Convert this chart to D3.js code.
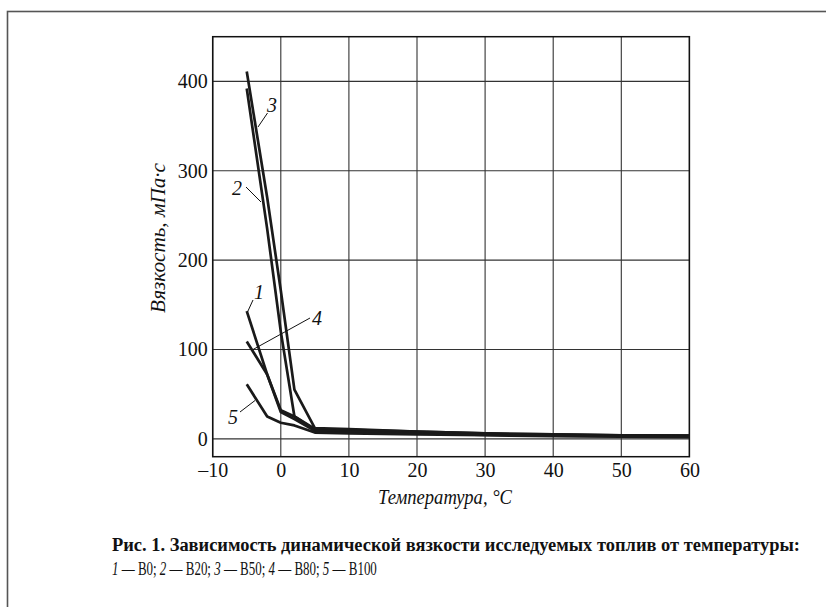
<!DOCTYPE html>
<html>
<head>
<meta charset="utf-8">
<script src="https://cdn.jsdelivr.net/npm/d3@7"></script>
<style>
  body { margin: 0; background: #fff; }
  svg { display: block; font-family: "Liberation Serif", "Times New Roman", serif; }
</style>
</head>
<body>
<div id="chart"></div>
<script>
// temperatures (°C) and viscosity (mPa·s)
const tempsLow = [-5, -2, 0, 2, 5, 10, 20, 30, 40, 50, 60];
const b0   = [143, 72, 32, 25, 11, 10, 8, 6, 5, 4, 3.5];
const b20  = [392, 235, 120, 25, 10, 9, 7, 5, 4, 3.5, 3];
const b50  = [411, 270, 166, 55, 12, 11, 8, 6, 5, 4, 3.5];
const b80  = [109, 72, 30, 22, 9, 8, 6, 4.5, 3.5, 3, 2.5];
const b100 = [61, 25, 18, 15, 7, 6, 5, 4, 3, 2.5, 2];

const xTicks = [-10, 0, 10, 20, 30, 40, 50, 60];
const yTicks = [0, 100, 200, 300, 400];

const seriesNames = ['1', '2', '3', '4', '5'];
const seriesValues = [b0, b20, b50, b80, b100];

const width = 826, height = 607;

const svg = d3.select('#chart').append('svg')
    .attr('width', width)
    .attr('height', height);

// outer gray frame of the figure
svg.append('rect')
    .attr('x', 7.5).attr('y', 11.5)
    .attr('width', 830).attr('height', 610)
    .attr('fill', 'none')
    .attr('stroke', '#555')
    .attr('stroke-width', 1.6);

const x = d3.scaleLinear().domain([-10, 60]).range([212.7, 689.4]);
const y = d3.scaleLinear().domain([-20, 450]).range([456.7, 36.7]);

// grid
const grid = svg.append('g').attr('stroke', '#333').attr('stroke-width', 1.1);
grid.selectAll('.vx').data(xTicks).enter().append('line')
    .attr('x1', d => x(d)).attr('x2', d => x(d))
    .attr('y1', y(450)).attr('y2', y(-20));
grid.selectAll('.hy').data(yTicks).enter().append('line')
    .attr('x1', x(-10)).attr('x2', x(60))
    .attr('y1', d => y(d)).attr('y2', d => y(d));

// plot frame
svg.append('rect')
    .attr('x', x(-10)).attr('y', y(450))
    .attr('width', x(60) - x(-10)).attr('height', y(-20) - y(450))
    .attr('fill', 'none').attr('stroke', '#111').attr('stroke-width', 1.5);

// axes (tick labels only, lines come from grid)
const xAxis = d3.axisBottom(x).tickValues(xTicks).tickSize(0).tickPadding(6)
    .tickFormat(d => d < 0 ? '\u2013' + Math.abs(d) : d);
svg.append('g').attr('transform', `translate(0,${y(-20)})`).call(xAxis)
    .call(g => g.select('.domain').remove())
    .selectAll('text')
    .style('font-family', '"Liberation Serif", serif')
    .style('font-size', '20px')
    .attr('fill', '#111');

const yAxis = d3.axisLeft(y).tickValues(yTicks).tickSize(0).tickPadding(5);
svg.append('g').attr('transform', `translate(${x(-10)},0)`).call(yAxis)
    .call(g => g.select('.domain').remove())
    .selectAll('text')
    .style('font-family', '"Liberation Serif", serif')
    .style('font-size', '20px')
    .attr('fill', '#111');

// axis titles
svg.append('text')
    .attr('x', 445).attr('y', 504)
    .attr('text-anchor', 'middle')
    .style('font-style', 'italic')
    .style('font-size', '20px')
    .attr('fill', '#111')
    .attr('textLength', 134)
    .attr('lengthAdjust', 'spacingAndGlyphs')
    .text('Температура, \u00B0С');

svg.append('text')
    .attr('transform', 'translate(165,238) rotate(-90)')
    .attr('text-anchor', 'middle')
    .style('font-style', 'italic')
    .style('font-size', '20px')
    .attr('fill', '#111')
    .attr('textLength', 150)
    .attr('lengthAdjust', 'spacingAndGlyphs')
    .text('Вязкость, мПа\u00B7с');

// curves
const line = d3.line().x(d => x(d[0])).y(d => y(d[1]));
svg.append('g').selectAll('path')
    .data(seriesValues)
    .enter().append('path')
    .attr('d', vals => line(tempsLow.map((t, i) => [t, vals[i]])))
    .attr('fill', 'none')
    .attr('stroke', '#1a1a1a')
    .attr('stroke-width', 2.7)
    .attr('stroke-linejoin', 'round');

// curve labels with leader lines
const labelPos = [
    { t: '1', tx: 259, ty: 299, lx1: 253, ly1: 300, lx2: 247.5, ly2: 312 },
    { t: '2', tx: 237, ty: 195, lx1: 246, ly1: 187, lx2: 261, ly2: 202 },
    { t: '3', tx: 272, ty: 112, lx1: 267.5, ly1: 113, lx2: 258, ly2: 127 },
    { t: '4', tx: 317, ty: 325, lx1: 310, ly1: 318, lx2: 253, ly2: 349.5 },
    { t: '5', tx: 233, ty: 424, lx1: 240, ly1: 412, lx2: 255, ly2: 400.5 }
];
const lab = svg.append('g');
lab.selectAll('line').data(labelPos).enter().append('line')
    .attr('x1', d => d.lx1).attr('y1', d => d.ly1)
    .attr('x2', d => d.lx2).attr('y2', d => d.ly2)
    .attr('stroke', '#111').attr('stroke-width', 1);
lab.selectAll('text').data(labelPos).enter().append('text')
    .attr('x', d => d.tx).attr('y', d => d.ty)
    .attr('text-anchor', 'middle')
    .style('font-style', 'italic')
    .style('font-size', '20px')
    .attr('fill', '#111')
    .text(d => d.t);

// caption
svg.append('text')
    .attr('x', 112).attr('y', 551)
    .style('font-weight', 'bold')
    .style('font-size', '18px')
    .attr('fill', '#111')
    .attr('textLength', 688)
    .attr('lengthAdjust', 'spacingAndGlyphs')
    .text('Рис. 1. Зависимость динамической вязкости исследуемых топлив от температуры:');

// second caption line: condensed type, done with a horizontal scale
const legendNames = ['В0', 'В20', 'В50', 'В80', 'В100'];
const cap2 = svg.append('text')
    .attr('transform', 'translate(112,575) scale(0.72,1)')
    .style('font-size', '18px')
    .attr('fill', '#111');
legendNames.forEach((n, i) => {
    cap2.append('tspan').style('font-style', 'italic').text(seriesNames[i]);
    cap2.append('tspan').text(' \u2014 ' + n + (i < legendNames.length - 1 ? '; ' : ''));
});
</script>
</body>
</html>
